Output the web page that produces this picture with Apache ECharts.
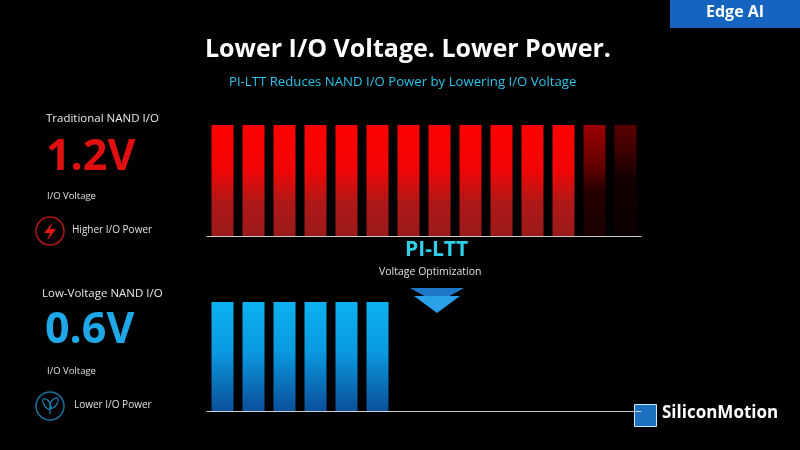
<!DOCTYPE html>
<html><head><meta charset="utf-8">
<script src="https://cdn.jsdelivr.net/npm/echarts@6/dist/echarts.min.js"></script>
<style>html,body{margin:0;padding:0;background:#000}#c{width:800px;height:450px}</style>
</head><body><div id="c"></div>
<script>
const categories = ['1','2','3','4','5','6','7','8','9','10','11','12','13','14'];
const traditionalIO = [1,1,1,1,1,1,1,1,1,1,1,1,1,1];
const traditionalDim = [0,0,0,0,0,0,0,0,0,0,0,0,1,2];
const lowVoltageIO = [1,1,1,1,1,1,null,null,null,null,null,null,null,null];

const F = '"Open Sans", "Noto Sans", sans-serif';
function redGrad(dim){
  if(dim===2) return new echarts.graphic.LinearGradient(0,0,0,1,[{offset:0,color:'#5a0000'},{offset:0.25,color:'#3a0000'},{offset:0.5,color:'#120000'},{offset:1,color:'#0c0000'}]);
  if(dim===1) return new echarts.graphic.LinearGradient(0,0,0,1,[{offset:0,color:'#9c0000'},{offset:0.4,color:'#5e0000'},{offset:0.6,color:'#240000'},{offset:1,color:'#1a0000'}]);
  return new echarts.graphic.LinearGradient(0,0,0,1,[{offset:0,color:'#ff0000'},{offset:0.4,color:'#f20505'},{offset:0.7,color:'#b01818'},{offset:1,color:'#9a1a1a'}]);
}
const blueGrad = new echarts.graphic.LinearGradient(0,0,0,1,[{offset:0,color:'#0db2ef'},{offset:0.45,color:'#0a9ae0'},{offset:1,color:'#0b4f9a'}]);

const chart = echarts.init(document.getElementById('c'));
const axisX = (gi)=>({type:'category',gridIndex:gi,data:categories,axisLine:{show:true,lineStyle:{color:'#d0d0d0',width:1}},axisTick:{show:false},axisLabel:{show:false}});
const axisY = (gi)=>({type:'value',gridIndex:gi,min:0,max:1,show:false,splitLine:{show:false}});
function t(x,y,text,size,color,weight){return {type:'text',left:x,top:y,style:{text,fontSize:size,fill:color,fontWeight:weight||'normal',fontFamily:F}};}

chart.setOption({
  backgroundColor:'#000',
  grid:[{left:207,width:434,top:125,height:111},{left:207,width:434,top:302,height:109}],
  xAxis:[axisX(0),axisX(1)],
  yAxis:[axisY(0),axisY(1)],
  series:[
    {type:'bar',xAxisIndex:0,yAxisIndex:0,barWidth:22,silent:true,
     data:traditionalIO.map((v,i)=>({value:v,itemStyle:{color:redGrad(traditionalDim[i])}}))},
    {type:'bar',xAxisIndex:1,yAxisIndex:1,barWidth:22,silent:true,itemStyle:{color:blueGrad},data:lowVoltageIO}
  ],
  graphic:[
    {type:'rect',left:670,top:0,shape:{width:130,height:28},style:{fill:'#1565c0'}},
    t(706,4,'Edge AI',16,'#fff','bold'),
    t(205,37,'Lower I/O Voltage. Lower Power.',25,'#fff','bold'),
    t(229,76,'PI-LTT Reduces NAND I/O Power by Lowering I/O Voltage',13.2,'#29c4e8'),
    t(46,113,'Traditional NAND I/O',11.5,'#e8e8e8'),
    t(46,136,'1.2V',43,'#e01010','bold'),
    t(47,191,'I/O Voltage',9.5,'#e0e0e0'),
    {type:'circle',shape:{cx:50,cy:231,r:14},style:{fill:'none',stroke:'#b01818',lineWidth:1.5}},
    {type:'polygon',shape:{points:[[53,222],[44,233],[50,233],[47,241],[56,229],[50,229]]},style:{fill:'#e01818'}},
    t(72,225,'Higher I/O Power',10,'#e0e0e0'),
    t(42,288,'Low-Voltage NAND I/O',11.5,'#e8e8e8'),
    t(45,309,'0.6V',43,'#1ea8e8','bold'),
    t(47,366,'I/O Voltage',9.5,'#e0e0e0'),
    {type:'circle',shape:{cx:50,cy:406,r:14},style:{fill:'none',stroke:'#1a6e9a',lineWidth:1.5}},
    {type:'ellipse',shape:{cx:47,cy:404,rx:3,ry:6},rotation:0.6,originX:47,originY:404,style:{fill:'none',stroke:'#1a8ac0',lineWidth:1.2}},
    {type:'ellipse',shape:{cx:54,cy:403,rx:3,ry:6},rotation:-0.6,originX:54,originY:403,style:{fill:'none',stroke:'#1a8ac0',lineWidth:1.2}},
    {type:'line',shape:{x1:50,y1:406,x2:50,y2:414},style:{stroke:'#1a8ac0',lineWidth:1.2}},
    t(74,400,'Lower I/O Power',10,'#e0e0e0'),
    t(405,240,'PI-LTT',21,'#2fd0e8','bold'),
    t(379,267,'Voltage Optimization',10.5,'#e0e0e0'),
    {type:'polygon',shape:{points:[[410,288],[464,288],[437,303]]},style:{fill:'#1e7ac8'}},
    {type:'polygon',shape:{points:[[414,296],[460,296],[437,313]]},style:{fill:'#2aa0e8'}},
    {type:'rect',left:634,top:404,shape:{width:22,height:22},style:{fill:'#1d6fc0',stroke:'#cfe6ff',lineWidth:1}},
    t(662,405,'SiliconMotion',17,'#fff','bold')
  ]
});
</script></body></html>
